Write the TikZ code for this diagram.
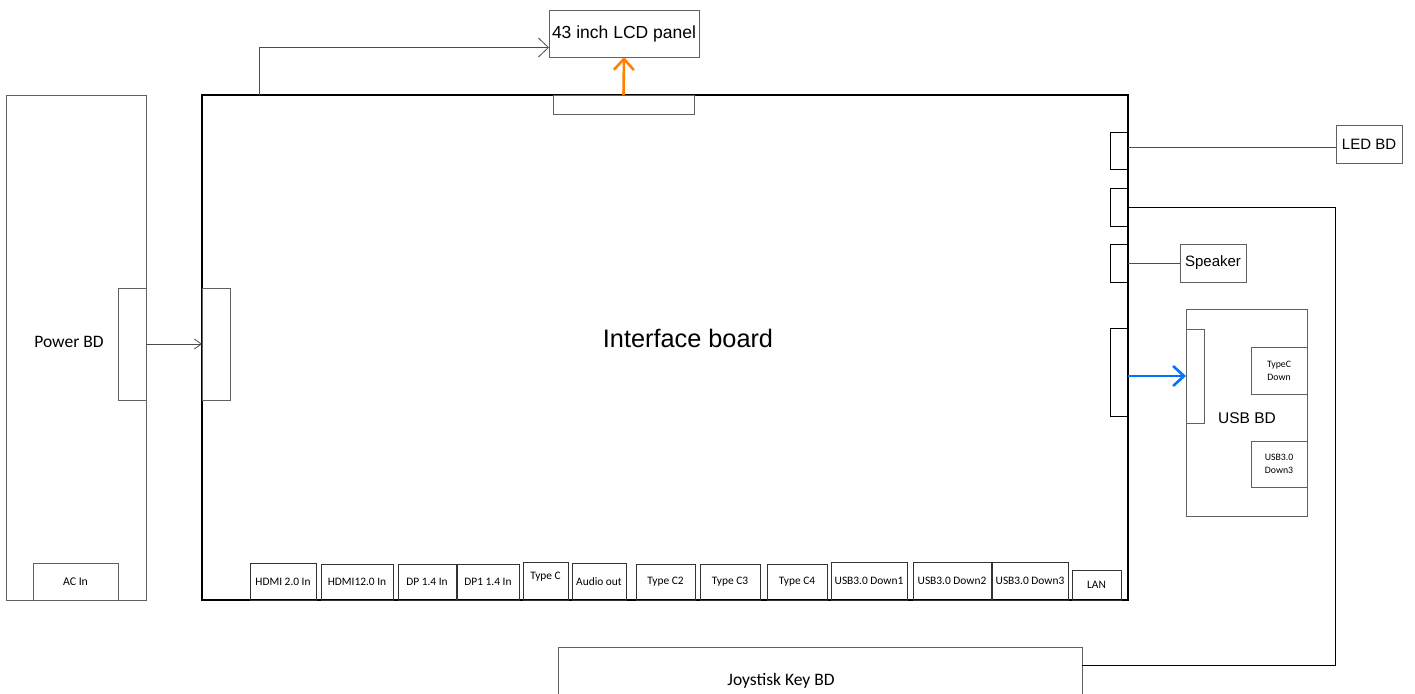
\documentclass[tikz,border=0pt]{standalone}
\usepackage{fontspec}
\setmainfont{Liberation Sans}
\newfontfamily\calib{Carlito}
\usetikzlibrary{arrows.meta}

\begin{document}
\begin{tikzpicture}[x=1pt, y=-1pt,
  every node/.style={inner sep=0pt, outer sep=0pt},
  wh/.style 2 args={minimum width=#1, minimum height=#2},
  box/.style={draw=gray!75!black, line width=0.8pt},
  plug/.style={draw=black, line width=0.8pt},
  port/.style={draw=gray!40!black, line width=0.8pt, font=\calib\fontsize{11.4}{13}\selectfont},
  wire/.style={draw=gray!60!black, line width=0.8pt},
  thinarrow/.style={wire, -{Straight Barb[length=10pt, width=19pt]}},
  fatarrow/.style={line width=2.6pt, -{Straight Barb[length=11pt, width=20pt]}}]
  \useasboundingbox (0,0) rectangle (1415,693);
  \clip (0,0) rectangle (1415,693);
  \node[draw=black, line width=2.6pt, wh={926}{505}] (board) at (665,347.5) {};
  \node[font=\fontsize{25.3}{30}\selectfont] (boardtitle) at (688,338) {Interface board};
  \node[box, wh={150}{47}, font=\fontsize{17.5}{21}\selectfont] (lcd) at (624,33.5) {43 inch LCD panel};
  \node[box, wh={141}{19}] (lcdport) at (623.5,104.5) {};
  \node[box, wh={140}{505}] (power) at (76,347.5) {};
  \node[font=\calib\fontsize{17.5}{21}\selectfont] (powertitle) at (69,342) {Power BD};
  \node[box, wh={28}{112}] (powerout) at (132,344) {};
  \node[box, wh={28}{112}] (powerin) at (216,344) {};
  \node[box, wh={85}{37}, font=\calib\fontsize{11.8}{13}\selectfont] (acin) at (75.5,581.5) {AC In};
  \node[plug, wh={18}{37}] (ledport) at (1119,150.5) {};
  \node[plug, wh={18}{38}] (joyport) at (1119,207) {};
  \node[plug, wh={18}{38}] (spkport) at (1119,263) {};
  \node[plug, wh={18}{88}] (usbport) at (1119,372) {};
  \node[box, wh={66}{38}, font=\fontsize{15}{18}\selectfont] (led) at (1369,144) {LED BD};
  \node[box, wh={66}{38}, font=\fontsize{15}{18}\selectfont] (speaker) at (1213,263) {Speaker};
  \node[box, wh={121}{207}] (usbbd) at (1246.5,412.5) {};
  \node[font=\fontsize{15.5}{18}\selectfont] (usbtitle) at (1247,418) {USB BD};
  \node[box, wh={18}{94}] (usbin) at (1195,376) {};
  \node[box, wh={56}{47}, align=center, font=\calib\fontsize{9.8}{12.7}\selectfont] (typecdown) at (1279,370.5) {TypeC\\Down};
  \node[box, wh={56}{46}, align=center, font=\calib\fontsize{9.8}{12.7}\selectfont] (usbdown) at (1279,464) {USB3.0\\Down3};
  \node[box, wh={524}{63}] (joystick) at (820,678.5) {};
  \node[font=\calib\fontsize{17.5}{21}\selectfont] (joytitle) at (781,681) {Joystisk Key BD};
  \node[port, wh={66}{37}] (hdmia) at (283,581.5) {HDMI 2.0 In};
  \node[port, wh={72}{36}] (hdmib) at (357,582) {HDMI12.0 In};
  \node[port, wh={58}{36}] (dpa) at (427,582) {DP 1.4 In};
  \node[port, wh={62}{36}] (dpb) at (488,582) {DP1 1.4 In};
  \node[port, wh={45}{38}, text depth=10pt] (typec) at (545.5,581) {Type C};
  \node[port, wh={54}{37}] (audio) at (599,581.5) {Audio out};
  \node[port, wh={59}{36}] (typecb) at (665.5,582) {Type C2};
  \node[port, wh={60}{36}] (typecc) at (730,582) {Type C3};
  \node[port, wh={60}{36}] (typecd) at (797,582) {Type C4};
  \node[port, wh={76}{38}] (usbda) at (869,581) {USB3.0 Down1};
  \node[port, wh={78}{38}] (usbdb) at (952,581) {USB3.0 Down2};
  \node[port, wh={76}{38}] (usbdc) at (1030,581) {USB3.0 Down3};
  \node[port, wh={49}{30}] (lan) at (1096.5,585) {LAN};
  \draw[thinarrow] ([xshift=57pt]board.north west) |- ([yshift=-14pt]lcd.west);
  \draw[fatarrow, orange] (lcdport.north) -- (lcd.south);
  \draw[wire, -{Straight Barb[length=7pt, width=10pt]}] (powerout.east) -- (powerin.west);
  \draw[wire] ([yshift=3pt]ledport.east) -- ([yshift=3pt]ledport.east -| led.west);
  \coordinate (joybend) at (1335,665);
  \draw[wire, draw=black] (joyport.east) -| (joybend) -- (joybend -| joystick.east);
  \draw[wire] (spkport.east) -- (speaker.west);
  \draw[fatarrow, blue!55!cyan] (usbport.east |- usbin.west) -- (usbin.west);
\end{tikzpicture}
\end{document}
